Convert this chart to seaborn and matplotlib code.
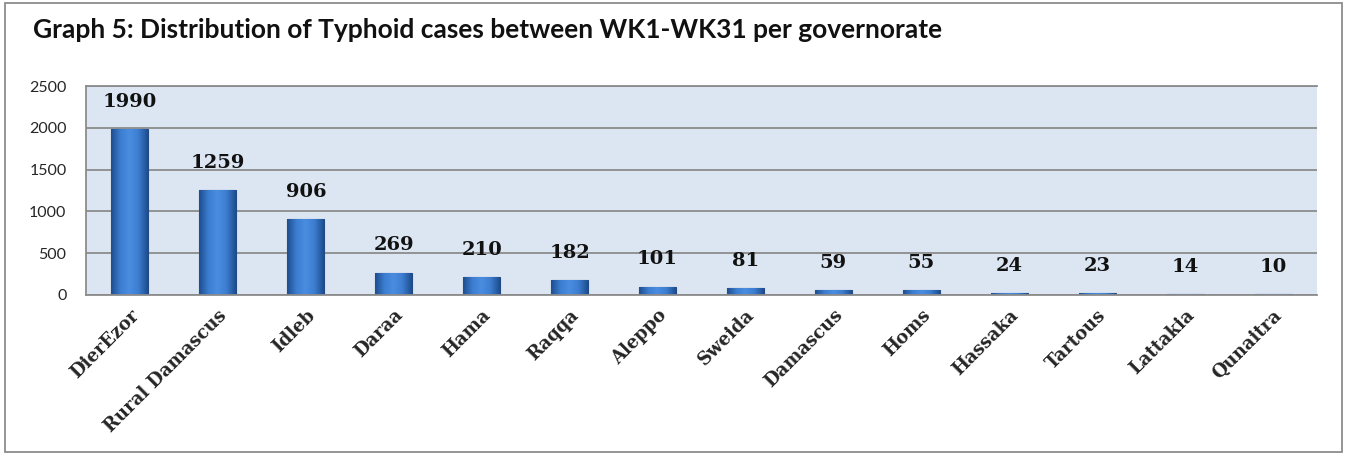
import matplotlib
matplotlib.use("Agg")
import matplotlib.pyplot as plt
import seaborn as sns
import pandas as pd
import numpy as np
from matplotlib.patches import Rectangle
from matplotlib.colors import LinearSegmentedColormap

governorates = ["DierEzor", "Rural Damascus", "Idleb", "Daraa", "Hama", "Raqqa", "Aleppo",
                "Sweida", "Damascus", "Homs", "Hassaka", "Tartous", "Lattakia", "Qunaitra"]
cases = [1990, 1259, 906, 269, 210, 182, 101, 81, 59, 55, 24, 23, 14, 10]
yticks = [0, 500, 1000, 1500, 2000, 2500]
title = "Graph 5: Distribution of Typhoid cases between WK1-WK31 per governorate"

df = pd.DataFrame({"gov": governorates, "cases": cases})

sns.set_theme(style="white")
fig = plt.figure(figsize=(13.46, 4.55), dpi=100)
ax = fig.add_axes([86/1346, 1 - 295/455, (1317-86)/1346, (295-86)/455])

sns.barplot(data=df, x="gov", y="cases", ax=ax, color="#3A78C8", width=0.42,
            edgecolor="#1F4A85", linewidth=0.8, saturation=1)

# horizontal gradient shading on each bar
cmap = LinearSegmentedColormap.from_list("bar", ["#1E4E8F", "#3C7DD0", "#4A8EE0", "#3C7DD0", "#1E4E8F"])
grad = np.linspace(0, 1, 64).reshape(1, -1)
for p in list(ax.patches):
    x0, y0 = p.get_x(), p.get_y()
    w, h = p.get_width(), p.get_height()
    im = ax.imshow(grad, cmap=cmap, aspect="auto", extent=[x0, x0 + w, y0, y0 + h],
                   zorder=p.get_zorder() + 0.1, interpolation="bicubic")
    im.set_clip_path(p)

ax.set_facecolor("#DCE6F2")
ax.set_ylim(0, 2500)
ax.set_xlim(-0.5, len(governorates) - 0.5)
ax.set_yticks(yticks)
ax.set_yticklabels([str(t) for t in yticks], fontsize=11.5, family="Lato")
ax.yaxis.grid(True, color="#8C8C8C", linewidth=1.3)
ax.set_axisbelow(True)
ax.tick_params(axis="y", length=0, pad=14)
ax.tick_params(axis="x", length=0, pad=8)
ax.set_xlabel("")
ax.set_ylabel("")
ax.set_xticks(range(len(governorates)))
ax.set_xticklabels(governorates, rotation=45, ha="right", rotation_mode="anchor",
                   fontsize=13, fontweight="bold", family="DejaVu Serif")
for s in ["top", "left", "bottom"]:
    ax.spines[s].set_color("#8C8C8C")
    ax.spines[s].set_linewidth(1.3)
ax.spines["right"].set_visible(False)

for i, v in enumerate(cases):
    ax.annotate(str(v), (i, v), xytext=(0, 19.5), textcoords="offset points",
                ha="center", va="center", fontsize=14, fontweight="bold",
                family="DejaVu Serif", color="#111111")

fig.text(33/1346, 1 - 30/455, title, ha="left", va="center", fontsize=19,
         fontweight="bold", family="Lato", color="#111111")

fig.patches.append(Rectangle((5/1346, 3/455), 1337/1346, 449/455, transform=fig.transFigure,
                             fill=False, edgecolor="#8C8C8C", linewidth=1.3))

fig.savefig("out.png", dpi=100)
